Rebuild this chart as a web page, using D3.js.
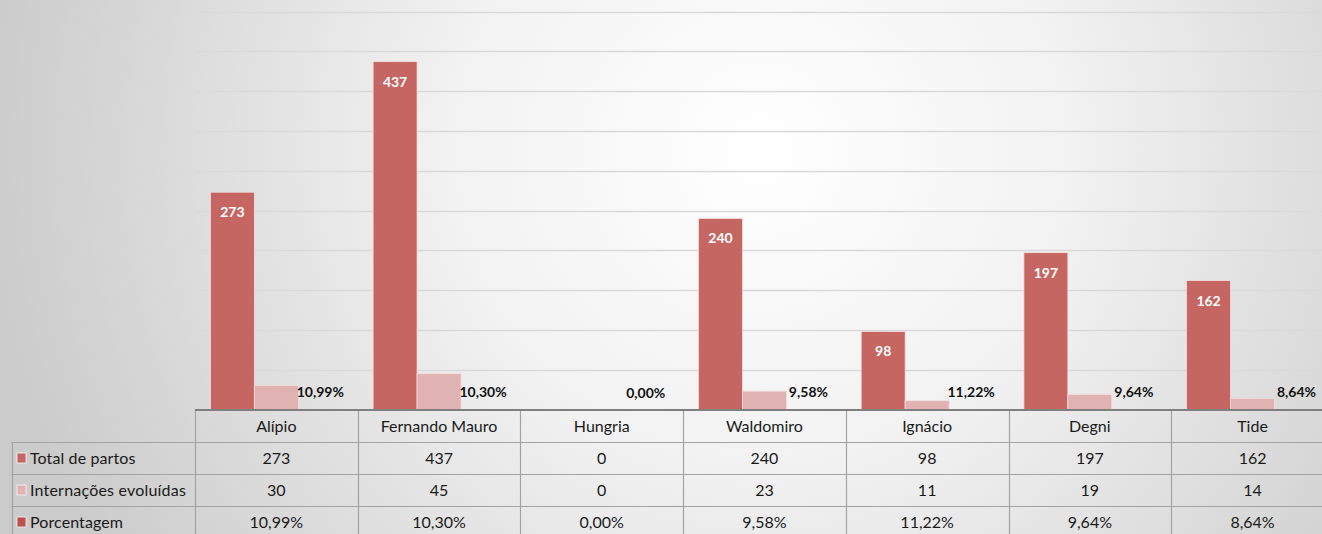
<!DOCTYPE html>
<html><head><meta charset="utf-8">
<script src="https://cdn.jsdelivr.net/npm/d3@7"></script>
<style>
html,body{margin:0;padding:0;overflow:hidden;}
svg{display:block;font-family:Lato,"Open Sans",sans-serif;}
</style></head>
<body>
<svg id="chart" width="1322" height="534"></svg>
<script>
const categories = ["Alípio","Fernando Mauro","Hungria","Waldomiro","Ignácio","Degni","Tide"];
const totalPartos = [273,437,0,240,98,197,162];
const internacoes = [30,45,0,23,11,19,14];
const porcentagem = [10.99,10.30,0.00,9.58,11.22,9.64,8.64];
const seriesNames = ["Total de partos","Internações evoluídas","Porcentagem"];
const seriesColors = ["#c66662","#e0b2b1","#b9524f"];
const yTicks = [0,50,100,150,200,250,300,350,400,450,500];

const fmtPct = v => v.toFixed(2).replace(".", ",") + "%";

const svg = d3.select("#chart");
const W = 1322, H = 534;

// background radial gradient
const defs = svg.append("defs");
const rg = defs.append("radialGradient").attr("id","bg")
  .attr("gradientUnits","userSpaceOnUse")
  .attr("cx",760).attr("cy",150).attr("r",780);
rg.append("stop").attr("offset","0%").attr("stop-color","#ffffff");
rg.append("stop").attr("offset","40%").attr("stop-color","#f2f2f2");
rg.append("stop").attr("offset","100%").attr("stop-color","#cbcbcb");
svg.append("rect").attr("width",W).attr("height",H).attr("fill","url(#bg)");

const plotLeft = 195, colW = 162.7;
const baseY = 409.5, topY = 11.5;
const x = d3.scaleBand().domain(categories).range([plotLeft, plotLeft + colW*categories.length]).padding(0);
const xs = d3.scaleBand().domain(seriesNames).range([0, x.bandwidth()]).paddingInner(0).paddingOuter(0.35);
const y = d3.scaleLinear().domain([0,500]).range([baseY, topY]);

// gridlines
svg.append("g").selectAll("line").data(yTicks.filter(t=>t>0)).join("line")
  .attr("x1",plotLeft).attr("x2",W)
  .attr("y1",d=>Math.round(y(d))+0.5).attr("y2",d=>Math.round(y(d))+0.5)
  .attr("stroke","#d9d9d9").attr("stroke-width",1.3);

const seriesVals = [totalPartos, internacoes, porcentagem.map(v=>v/100)];

// bars
seriesVals.forEach((vals, si) => {
  svg.append("g").selectAll("rect").data(categories).join("rect")
    .attr("x", (c)=> x(c) + xs(seriesNames[si]))
    .attr("width", xs.bandwidth())
    .attr("y", (c,i)=> y(vals[i]))
    .attr("height", (c,i)=> baseY - y(vals[i]))
    .attr("fill", seriesColors[si])
    .attr("stroke", (c,i)=> vals[i] > 1 ? "#f4dede" : "none")
    .attr("stroke-width", 0.8);
});

// labels for total
const totalData = categories.map((c,i)=>({c, v: totalPartos[i]})).filter(d=>d.v>0);
svg.append("g").selectAll("text").data(totalData).join("text")
  .attr("x", d => x(d.c) + xs(seriesNames[0]) + xs.bandwidth()/2)
  .attr("y", d => y(d.v) + 25)
  .attr("text-anchor","middle")
  .attr("fill","#ffffff").attr("font-weight","bold").attr("font-size",14)
  .text(d=> d.v);

// labels for percentage
svg.append("g").selectAll("text").data(categories).join("text")
  .attr("x", c => x(c) + xs(seriesNames[2]) + xs.bandwidth()/2)
  .attr("y", (c,i) => y(porcentagem[i]/100) - 12)
  .attr("text-anchor","middle")
  .attr("fill","#111").attr("font-weight","bold").attr("font-size",14)
  .text((c,i)=> fmtPct(porcentagem[i]));

// data table
const rowH = 32;
const headTop = baseY, rowsTop = headTop + rowH + 0.5;
const legendLeft = 11.5;
const tbl = svg.append("g");
const borderColor = "#a3a3a3";
const xEnd = plotLeft + colW*categories.length;

const hLines = [rowsTop, rowsTop+rowH, rowsTop+2*rowH];
tbl.selectAll("line.h").data(hLines).join("line").attr("class","h")
  .attr("x1",legendLeft).attr("x2",xEnd)
  .attr("y1",d=>Math.round(d)+0.5).attr("y2",d=>Math.round(d)+0.5)
  .attr("stroke",borderColor).attr("stroke-width",1.2);
const vX = [legendLeft].concat(categories.map(c=>x(c))).concat([xEnd]);
tbl.selectAll("line.v").data(vX).join("line").attr("class","v")
  .attr("x1",d=>Math.round(d)+0.5).attr("x2",d=>Math.round(d)+0.5)
  .attr("y1",(d,i)=> i===0 ? rowsTop : headTop).attr("y2",H)
  .attr("stroke",borderColor).attr("stroke-width",1.2);
tbl.append("line").attr("x1",plotLeft).attr("x2",W)
  .attr("y1",baseY+0.5).attr("y2",baseY+0.5)
  .attr("stroke","#7f7f7f").attr("stroke-width",2);

tbl.selectAll("text.hd").data(categories).join("text").attr("class","hd")
  .attr("x", c=> x(c)+colW/2).attr("y", headTop + 22)
  .attr("text-anchor","middle").attr("font-size",16).attr("fill","#1a1a1a")
  .text(c=>c);

const rowTexts = [totalPartos.map(String), internacoes.map(String), porcentagem.map(fmtPct)];
rowTexts.forEach((vals, ri) => {
  const cy = rowsTop + ri*rowH + 22;
  tbl.append("g").selectAll("text").data(categories).join("text")
    .attr("x", c=> x(c)+colW/2).attr("y", cy)
    .attr("text-anchor","middle").attr("font-size",16).attr("fill","#1a1a1a")
    .text((c,i)=> vals[i]);
  tbl.append("rect").attr("x",17).attr("y",rowsTop + ri*rowH + 11).attr("width",9).attr("height",10)
    .attr("fill",seriesColors[ri]).attr("stroke","#f4f4f4").attr("stroke-width",0.8);
  tbl.append("text").attr("x",30).attr("y",cy).attr("font-size",16).attr("fill","#1a1a1a")
    .attr("letter-spacing", ri===1 ? 0.2 : 0.1)
    .text(seriesNames[ri]);
});
</script>
</body></html>
